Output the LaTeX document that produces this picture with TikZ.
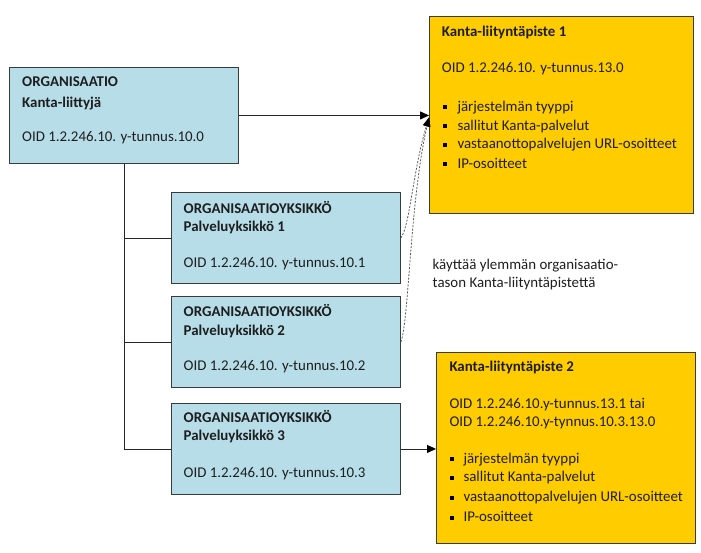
\documentclass[tikz,border=0pt]{standalone}
\usepackage{fontspec}
\setmainfont{Carlito}
\usetikzlibrary{arrows.meta}
\definecolor{orgblue}{HTML}{B7DEE8}
\definecolor{kantayellow}{HTML}{FFCC00}
\definecolor{edgegray}{HTML}{3A3A3A}
\definecolor{txt}{HTML}{1E1E1E}
\tikzset{
  orgbox/.style={draw=edgegray, line width=0.9pt, fill=orgblue, rectangle, inner sep=0pt, anchor=north west},
  kantabox/.style={draw=edgegray, line width=0.9pt, fill=kantayellow, rectangle, inner sep=0pt, anchor=north west},
  lbl/.style={anchor=base west, inner sep=0pt, text=txt, font=\fontsize{14.9}{17}\selectfont},
  blbl/.style={lbl, font=\fontsize{14.9}{17}\selectfont\bfseries},
  bul/.style={fill=black, minimum size=4pt, inner sep=0pt, rectangle},
  conn/.style={draw=black!85, line width=0.9pt},
  arr/.style={conn, -{Triangle[length=9pt,width=8pt,color=black,fill=black]}},
  darr/.style={draw=black!65, line width=0.8pt, dash pattern=on 2pt off 1.5pt, -{Triangle[length=9pt,width=7pt,color=black,fill=black]}}
}
\begin{document}
\begin{tikzpicture}[x=1pt,y=-1pt]
\useasboundingbox (0,0) rectangle (701,552);
% boxes
\node[orgbox, minimum width=229pt, minimum height=96pt] (org) at (9,67) {};
\node[orgbox, minimum width=229pt, minimum height=91pt] (u1) at (171,192) {};
\node[orgbox, minimum width=229pt, minimum height=91pt] (u2) at (171,296) {};
\node[orgbox, minimum width=229pt, minimum height=91pt] (u3) at (171,403) {};
\node[kantabox, minimum width=264pt, minimum height=197pt] (k1) at (429,16) {};
\node[kantabox, minimum width=259pt, minimum height=191pt] (k2) at (436,352) {};
% org text
\node[blbl] (orgt1) at (22,86.7) {ORGANISAATIO};
\node[blbl] (orgt2) at (22,107) {Kanta-liittyjä};
\node[lbl] (orgt3) at (22,141.7) {OID 1.2.246.10. y-tunnus.10.0};
% units
\node[blbl] (u1t1) at (183.5,213.3) {ORGANISAATIOYKSIKKÖ};
\node[blbl] (u1t2) at (183.5,231) {Palveluyksikkö 1};
\node[lbl] (u1t3) at (183.5,267.3) {OID 1.2.246.10. y-tunnus.10.1};
\node[blbl] (u2t1) at (183.5,316.7) {ORGANISAATIOYKSIKKÖ};
\node[blbl] (u2t2) at (183.5,335) {Palveluyksikkö 2};
\node[lbl] (u2t3) at (183.5,370.3) {OID 1.2.246.10. y-tunnus.10.2};
\node[blbl] (u3t1) at (183.5,422.7) {ORGANISAATIOYKSIKKÖ};
\node[blbl] (u3t2) at (183.5,440.5) {Palveluyksikkö 3};
\node[lbl] (u3t3) at (183.5,477) {OID 1.2.246.10. y-tunnus.10.3};
% kanta 1
\node[blbl] (k1t1) at (441.7,36) {Kanta-liityntäpiste 1};
\node[lbl] (k1t2) at (441.7,72.7) {OID 1.2.246.10. y-tunnus.13.0};
\node[bul] (k1b1) at (445,107) {};
\node[lbl] (k1l1) at (457.3,111) {järjestelmän tyyppi};
\node[bul] (k1b2) at (445,126) {};
\node[lbl] (k1l2) at (457.3,130) {sallitut Kanta-palvelut};
\node[bul] (k1b3) at (445,144.5) {};
\node[lbl] (k1l3) at (457.3,148.5) {vastaanottopalvelujen URL-osoitteet};
\node[bul] (k1b4) at (445,164) {};
\node[lbl] (k1l4) at (457.3,168) {IP-osoitteet};
% kanta 2
\node[blbl] (k2t1) at (449.3,371.7) {Kanta-liityntäpiste 2};
\node[lbl] (k2t2) at (449.3,408.3) {OID 1.2.246.10.y-tunnus.13.1 tai};
\node[lbl] (k2t3) at (449.3,426.7) {OID 1.2.246.10.y-tynnus.10.3.13.0};
\node[bul] (k2b1) at (451.7,459.3) {};
\node[lbl] (k2l1) at (463.3,463.3) {järjestelmän tyyppi};
\node[bul] (k2b2) at (451.7,477.7) {};
\node[lbl] (k2l2) at (463.3,481.7) {sallitut Kanta-palvelut};
\node[bul] (k2b3) at (451.7,497.7) {};
\node[lbl] (k2l3) at (463.3,501.7) {vastaanottopalvelujen URL-osoitteet};
\node[bul] (k2b4) at (451.7,517.7) {};
\node[lbl] (k2l4) at (463.3,521.7) {IP-osoitteet};
% note
\node[lbl] (note1) at (432.5,269) {käyttää ylemmän organisaatio-};
\node[lbl] (note2) at (432.5,287.3) {tason Kanta-liityntäpistettä};
% connectors
\coordinate (trunkend) at (org.south |- u3.west);
\draw[conn] (org.south) -- (trunkend) -- (u3.west);
\draw[conn] (org.south |- u1.west) -- (u1.west);
\draw[conn] (org.south |- u2.west) -- (u2.west);
\draw[arr] (org.east) -- (org.east -| k1.west);
\draw[arr] (u3.east) -- (u3.east -| k2.west);
\coordinate (k1in) at ([yshift=-2pt]org.east -| k1.west);
\draw[darr] (u1.east) .. controls (410,225) and (413,170) .. (k1in);
\draw[darr] (u2.east) .. controls (409,320) and (410,200) .. (k1in);
\end{tikzpicture}
\end{document}
